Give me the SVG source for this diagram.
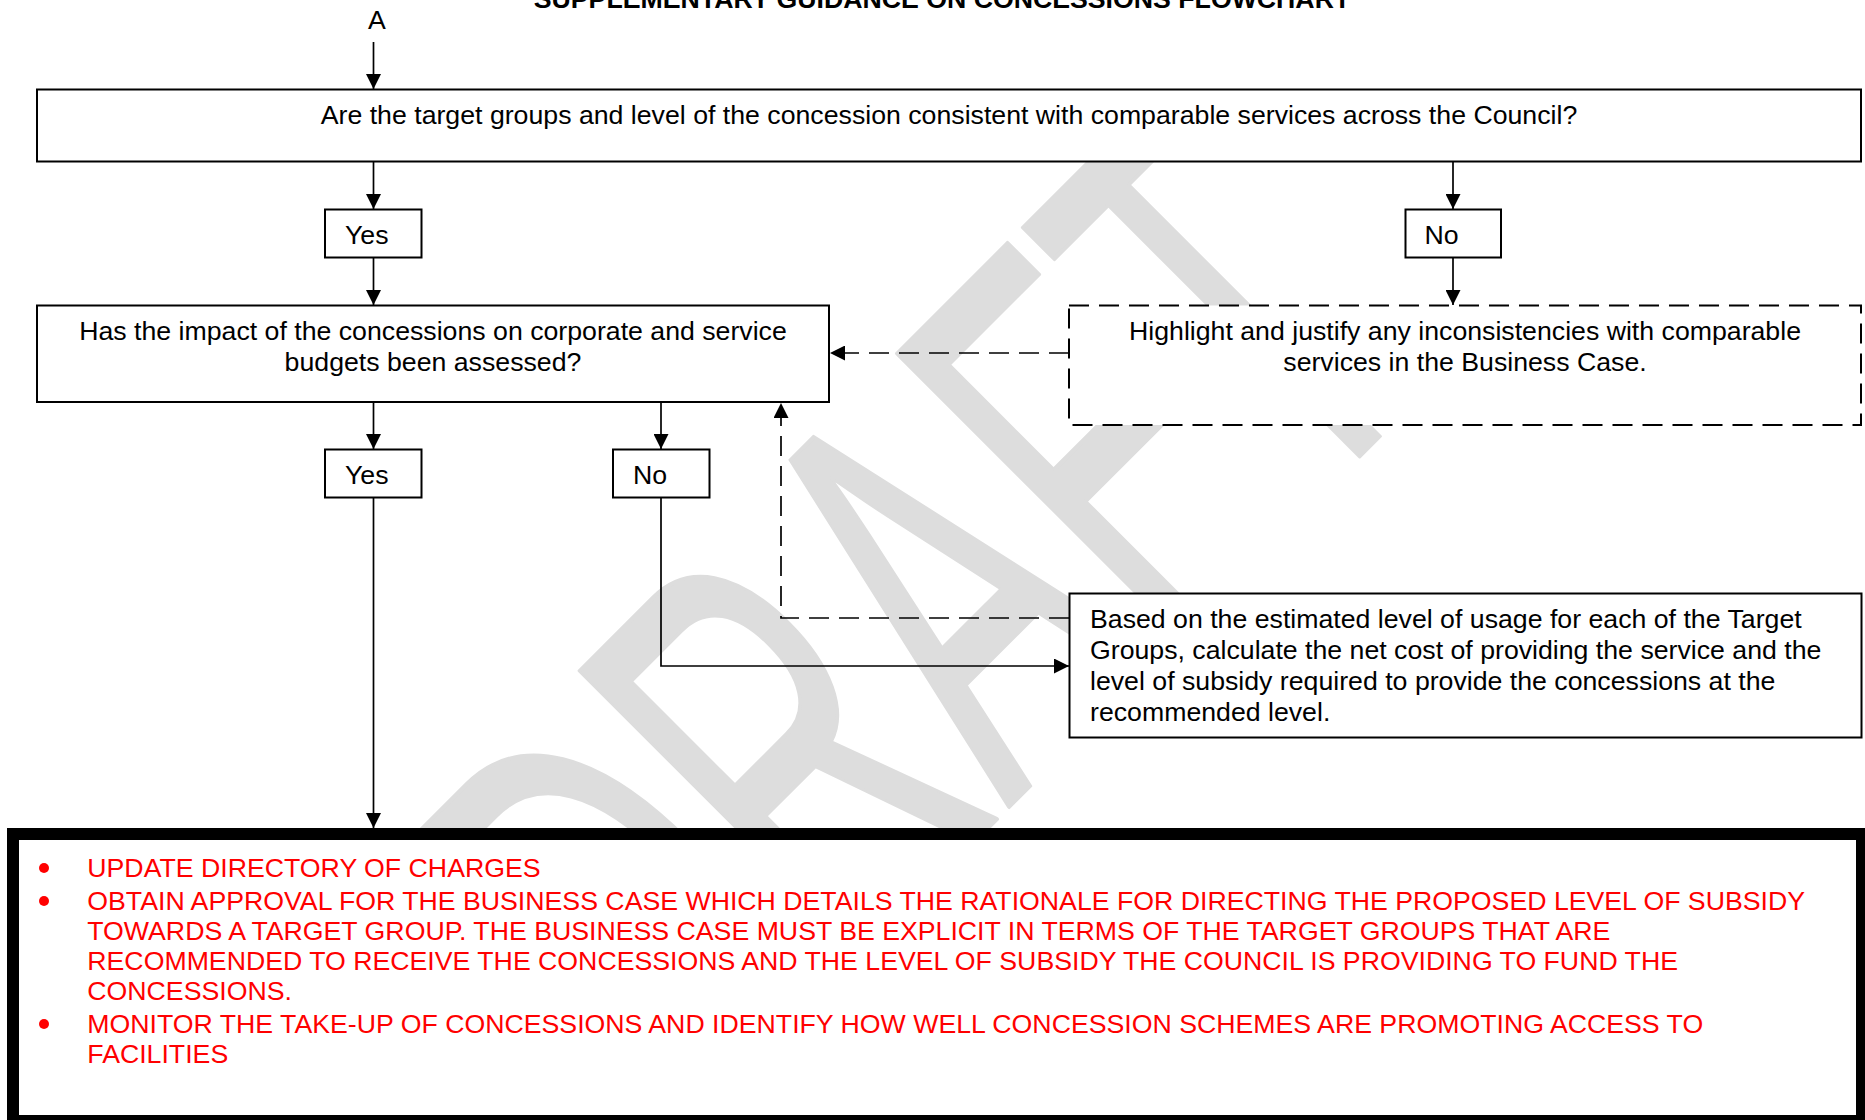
<svg xmlns="http://www.w3.org/2000/svg" width="1865" height="1120" viewBox="0 0 1865 1120">
<style>
text{font-family:"Liberation Sans",Arial,Helvetica,sans-serif;font-size:26.7px;fill:#000}
.box{fill:#fff;stroke:#000;stroke-width:2}
.dash{fill:#fff;stroke:#000;stroke-width:2;stroke-dasharray:20 10}
.con{fill:none;stroke:#000;stroke-width:1.7}
.dcon{fill:none;stroke:#000;stroke-width:1.7;stroke-dasharray:20 10}
.mid{text-anchor:middle}
.red{fill:#ff0000}
.wm{font-size:581px;fill:#dddddd;stroke:#dddddd;stroke-width:4;stroke-linejoin:round}
</style>
<defs>
<marker id="ah" markerWidth="15" markerHeight="15" refX="15" refY="7.5" orient="auto" markerUnits="userSpaceOnUse">
<path d="M0,0 L15,7.5 L0,15 z" fill="#000"/>
</marker>
</defs>
<rect x="0" y="0" width="1865" height="1120" fill="#fff"/>
<g id="watermark">
<text class="wm" transform="translate(678.2,1137.8) rotate(-45) scale(0.556,1)" x="0" y="0">DRAFT</text>
</g>
<g id="title">
<text class="mid" x="942" y="7.5" font-weight="bold">SUPPLEMENTARY GUIDANCE ON CONCESSIONS FLOWCHART</text>
</g>
<g id="start-A">
<text class="mid" x="377" y="28.5">A</text>
</g>
<g id="connectors">
<path class="con" d="M373.5,42 V89" marker-end="url(#ah)"/>
<path class="con" d="M373.5,161.5 V209" marker-end="url(#ah)"/>
<path class="con" d="M1453,161.5 V209" marker-end="url(#ah)"/>
<path class="con" d="M373.5,257.5 V305" marker-end="url(#ah)"/>
<path class="con" d="M1453,257.5 V305" marker-end="url(#ah)"/>
<path class="dcon" d="M1069,353 H830" marker-end="url(#ah)"/>
<path class="con" d="M373.5,402 V449" marker-end="url(#ah)"/>
<path class="con" d="M661,402 V449" marker-end="url(#ah)"/>
<path class="con" d="M373.5,497.5 V828" marker-end="url(#ah)"/>
<path class="con" d="M661,497.5 V666 H1069" marker-end="url(#ah)"/>
<path class="dcon" d="M1069,618 H781 V403" marker-end="url(#ah)"/>
</g>
<g id="q1">
<rect class="box" x="37" y="89.5" width="1824" height="72"/>
<text class="mid" x="949" y="124">Are the target groups and level of the concession consistent with comparable services across the Council?</text>
</g>
<g id="yes1">
<rect class="box" x="325" y="209.5" width="96.5" height="48"/>
<text x="345" y="244">Yes</text>
</g>
<g id="no1">
<rect class="box" x="1405.5" y="209.5" width="95.5" height="48"/>
<text x="1424.5" y="244">No</text>
</g>
<g id="q2">
<rect class="box" x="37" y="305.5" width="792" height="96.5"/>
<text class="mid" x="433" y="339.5">Has the impact of the concessions on corporate and service</text>
<text class="mid" x="433" y="370.5">budgets been assessed?</text>
</g>
<g id="highlight">
<rect class="dash" x="1069" y="305.5" width="792" height="119.5"/>
<text class="mid" x="1465" y="339.5">Highlight and justify any inconsistencies with comparable</text>
<text class="mid" x="1465" y="370.5">services in the Business Case.</text>
</g>
<g id="yes2">
<rect class="box" x="325" y="449.5" width="96.5" height="48"/>
<text x="345" y="484">Yes</text>
</g>
<g id="no2">
<rect class="box" x="613" y="449.5" width="96.5" height="48"/>
<text x="633" y="484">No</text>
</g>
<g id="calculate">
<rect class="box" x="1069.5" y="593.5" width="792" height="144"/>
<text x="1090" y="627.5">Based on the estimated level of usage for each of the Target</text>
<text x="1090" y="658.5">Groups, calculate the net cost of providing the service and the</text>
<text x="1090" y="689.5">level of subsidy required to provide the concessions at the</text>
<text x="1090" y="720.5">recommended level.</text>
</g>
<g id="actions">
<rect x="13" y="834" width="1849" height="287" fill="#fff" stroke="#000" stroke-width="12"/>
<circle class="red" cx="44" cy="868" r="5"/>
<circle class="red" cx="44" cy="901" r="5"/>
<circle class="red" cx="44" cy="1024" r="5"/>
<text class="red" x="87.3" y="877">UPDATE DIRECTORY OF CHARGES</text>
<text class="red" x="87.3" y="910">OBTAIN APPROVAL FOR THE BUSINESS CASE WHICH DETAILS THE RATIONALE FOR DIRECTING THE PROPOSED LEVEL OF SUBSIDY</text>
<text class="red" x="87.3" y="940">TOWARDS A TARGET GROUP. THE BUSINESS CASE MUST BE EXPLICIT IN TERMS OF THE TARGET GROUPS THAT ARE</text>
<text class="red" x="87.3" y="970">RECOMMENDED TO RECEIVE THE CONCESSIONS AND THE LEVEL OF SUBSIDY THE COUNCIL IS PROVIDING TO FUND THE</text>
<text class="red" x="87.3" y="1000">CONCESSIONS.</text>
<text class="red" x="87.3" y="1033">MONITOR THE TAKE-UP OF CONCESSIONS AND IDENTIFY HOW WELL CONCESSION SCHEMES ARE PROMOTING ACCESS TO</text>
<text class="red" x="87.3" y="1063">FACILITIES</text>
</g>
</svg>
